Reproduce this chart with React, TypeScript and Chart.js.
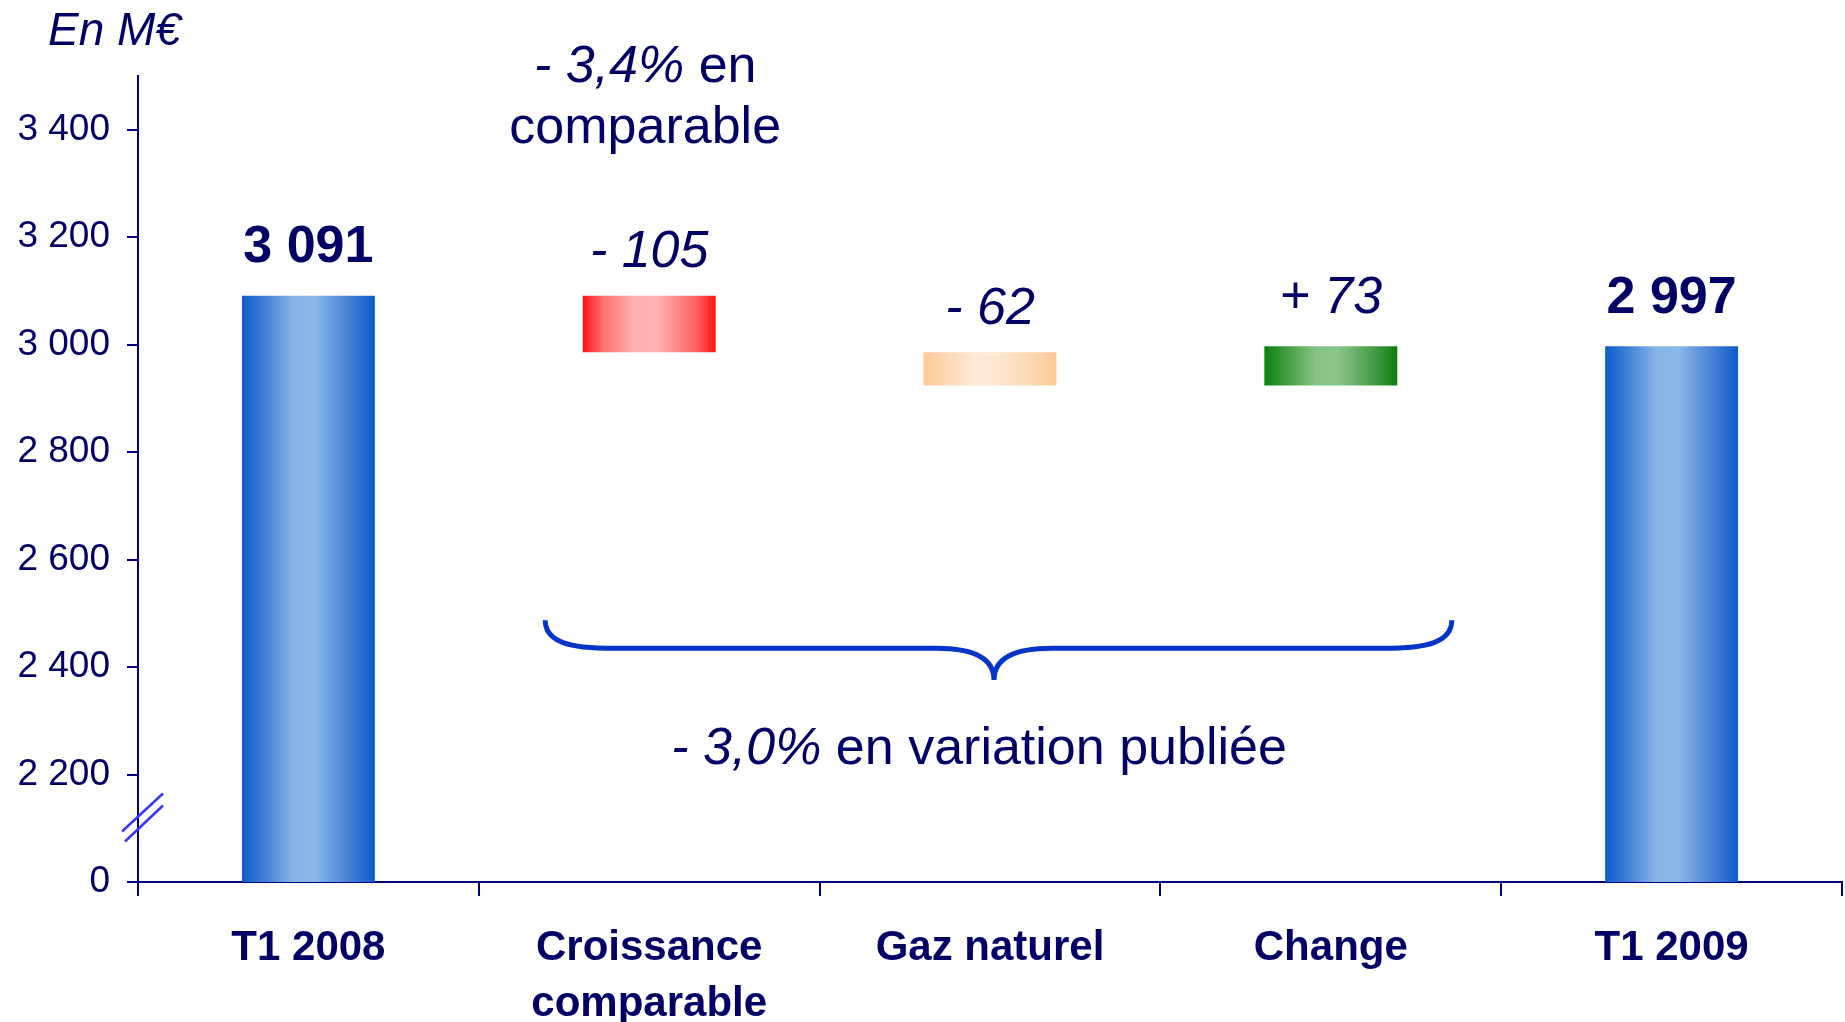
import React, { useEffect, useRef } from "react";
import { Chart, registerables } from "chart.js";

Chart.register(...registerables);

// ---- data ----
const categories: string[][] = [["T1 2008"], ["Croissance", "comparable"], ["Gaz naturel"], ["Change"], ["T1 2009"]];
const startValue = 3091;
const deltas = [-105, -62, 73];
const endValue = 2997;
const barLabels = ["3 091", "- 105", "- 62", "+ 73", "2 997"];
const yTickValues = [2000, 2200, 2400, 2600, 2800, 3000, 3200, 3400];
const axisFloor = 2000; // broken axis: shown as "0"
const axisTop = 3500;
const noteComparable = { italic: "- 3,4%", normal: " en", line2: "comparable" };
const notePublished = { italic: "- 3,0%", normal: " en variation publiée" };
const unitLabel = "En M€";

// ---- styles ----
const NAVY = "#000066";
const AXIS = "#000080";
const FONT = "'Liberation Sans', Arial, sans-serif";
const barGradients: string[][] = [
  ["#0a5ecc", "#3a7ad5", "#86b4e6", "#8ab8e8", "#3a76d4", "#0a5ccc"],
  ["#ff1212", "#ff6e6e", "#ffb0b0", "#ffb3b3", "#ff6464", "#ff1212"],
  ["#fdc895", "#fdd7b2", "#fee8d6", "#fee6d2", "#fdd5ad", "#fdc895"],
  ["#0a7f0a", "#3d9a3d", "#85c285", "#8cc48c", "#3f973f", "#0a7d0a"],
  ["#0a5ecc", "#3a7ad5", "#86b4e6", "#8ab8e8", "#3a76d4", "#0a5ccc"],
];
const gradientStops = [0, 0.15, 0.38, 0.55, 0.85, 1];

function buildRanges(): number[][] {
  const r: number[][] = [[axisFloor, startValue]];
  let running = startValue;
  for (const d of deltas) {
    const next = running + d;
    r.push([Math.min(running, next), Math.max(running, next)]);
    running = next;
  }
  r.push([axisFloor, endValue]);
  return r;
}

function fmt(v: number): string {
  if (v === axisFloor) return "0";
  const th = Math.floor(v / 1000);
  const rest = String(v % 1000).padStart(3, "0");
  return th > 0 ? `${th} ${rest}` : String(v);
}

function drawMixed(ctx: CanvasRenderingContext2D, cx: number, cy: number, italic: string, normal: string, size: number) {
  ctx.textBaseline = "middle";
  ctx.textAlign = "left";
  ctx.font = `italic ${size}px ${FONT}`;
  const w1 = ctx.measureText(italic).width;
  ctx.font = `${size}px ${FONT}`;
  const w2 = ctx.measureText(normal).width;
  const x0 = cx - (w1 + w2) / 2;
  ctx.font = `italic ${size}px ${FONT}`;
  ctx.fillText(italic, x0, cy);
  ctx.font = `${size}px ${FONT}`;
  ctx.fillText(normal, x0 + w1, cy);
}

const annotationsPlugin = {
  id: "annotations",
  afterDraw(chart: any) {
    const ctx: CanvasRenderingContext2D = chart.ctx;
    const xs = chart.scales.x;
    const ys = chart.scales.y;
    const meta = chart.getDatasetMeta(0);
    ctx.save();
    ctx.fillStyle = NAVY;

    // value labels above bars
    meta.data.forEach((el: any, i: number) => {
      const top = Math.min(el.y, el.base);
      const bold = i === 0 || i === meta.data.length - 1;
      const negative = !bold && deltas[i - 1] < 0;
      ctx.font = `${bold ? "bold" : "italic"} 52px ${FONT}`;
      ctx.textAlign = "center";
      ctx.textBaseline = "middle";
      ctx.fillText(barLabels[i], el.x, top - (negative ? 43 : 48));
    });

    // unit label
    ctx.font = `italic 46px ${FONT}`;
    ctx.textAlign = "left";
    ctx.textBaseline = "middle";
    ctx.fillText(unitLabel, 48, 32);

    // comparable note
    const cx1 = xs.getPixelForValue(1) - 4;
    drawMixed(ctx, cx1, chart.chartArea.top - 8, noteComparable.italic, noteComparable.normal, 52);
    ctx.font = `52px ${FONT}`;
    ctx.textAlign = "center";
    ctx.fillText(noteComparable.line2, cx1, chart.chartArea.top + 53);

    // brace
    const bl = xs.getPixelForValue(1) - 104;
    const br = xs.getPixelForValue(3) + 121;
    const bm = xs.getPixelForValue(2) + 4;
    const yTop = ys.getPixelForValue(2487);
    const yMid = ys.getPixelForValue(2435);
    const yPt = ys.getPixelForValue(2376);
    ctx.strokeStyle = "#0535c8";
    ctx.lineWidth = 5;
    ctx.lineCap = "butt";
    ctx.beginPath();
    ctx.moveTo(bl, yTop);
    ctx.bezierCurveTo(bl, yTop + 22, bl + 25, yMid, bl + 68, yMid);
    ctx.lineTo(bm - 58, yMid);
    ctx.bezierCurveTo(bm - 20, yMid, bm, yMid + 10, bm, yPt);
    ctx.bezierCurveTo(bm, yMid + 10, bm + 20, yMid, bm + 58, yMid);
    ctx.lineTo(br - 68, yMid);
    ctx.bezierCurveTo(br - 25, yMid, br, yTop + 22, br, yTop);
    ctx.stroke();

    // published note
    ctx.fillStyle = NAVY;
    drawMixed(ctx, bm - 15, ys.getPixelForValue(2247), notePublished.italic, notePublished.normal, 52);

    // axis break marks
    const ax = chart.chartArea.left;
    const yb = ys.getPixelForValue(2120);
    ctx.strokeStyle = "#3838f0";
    ctx.lineWidth = 2.5;
    ctx.beginPath();
    ctx.moveTo(ax - 16, yb + 14);
    ctx.lineTo(ax + 25, yb - 24);
    ctx.moveTo(ax - 13, yb + 24);
    ctx.lineTo(ax + 25, yb - 12);
    ctx.stroke();

    ctx.restore();
  },
};

export default function App() {
  const canvasRef = useRef<HTMLCanvasElement | null>(null);

  useEffect(() => {
    document.body.style.margin = "0";
    const canvas = canvasRef.current!;
    const ranges = buildRanges();
    const chart = new Chart(canvas, {
      type: "bar",
      data: {
        labels: categories,
        datasets: [
          {
            data: ranges as any,
            barPercentage: 0.78,
            categoryPercentage: 0.5,
            borderWidth: 0,
            backgroundColor: (c: any) => {
              const ch = c.chart;
              const xs = ch.scales?.x;
              const i = c.dataIndex;
              const stops = barGradients[i] || barGradients[0];
              if (!xs || !ch.chartArea) return stops[0];
              const cx = xs.getPixelForValue(i);
              const half = (xs.width / categories.length) * 0.39 / 2;
              const g = ch.ctx.createLinearGradient(cx - half, 0, cx + half, 0);
              stops.forEach((col, k) => g.addColorStop(gradientStops[k], col));
              return g;
            },
          },
        ],
      },
      options: {
        responsive: false,
        animation: false,
        layout: { padding: { top: 76, right: 3, left: 0, bottom: 0 } },
        plugins: { legend: { display: false }, tooltip: { enabled: false } },
        scales: {
          x: {
            offset: true,
            afterFit: (s: any) => { s.height = 140; },
            grid: { offset: true, drawOnChartArea: false, drawTicks: true, tickLength: 14, color: AXIS, lineWidth: 2 },
            border: { display: true, color: AXIS, width: 2 },
            ticks: {
              color: NAVY,
              padding: 25,
              font: { family: FONT, size: 42, weight: "bold", lineHeight: 1.32 },
              maxRotation: 0,
              autoSkip: false,
            },
          },
          y: {
            min: axisFloor,
            max: axisTop,
            afterFit: (s: any) => { s.width = 138; },
            afterBuildTicks: (s: any) => { s.ticks = yTickValues.map((v) => ({ value: v })); },
            grid: { drawOnChartArea: false, drawTicks: true, tickLength: 11, color: AXIS, lineWidth: 2 },
            border: { display: true, color: AXIS, width: 2 },
            ticks: {
              color: NAVY,
              padding: 17,
              font: { family: FONT, size: 37 },
              callback: (v: any) => fmt(Number(v)),
            },
          },
        },
      },
      plugins: [annotationsPlugin],
    });
    return () => chart.destroy();
  }, []);

  return (
    <div style={{ width: 1845, height: 1022, background: "#ffffff" }}>
      <canvas ref={canvasRef} width={1845} height={1022} style={{ display: "block" }} />
    </div>
  );
}
